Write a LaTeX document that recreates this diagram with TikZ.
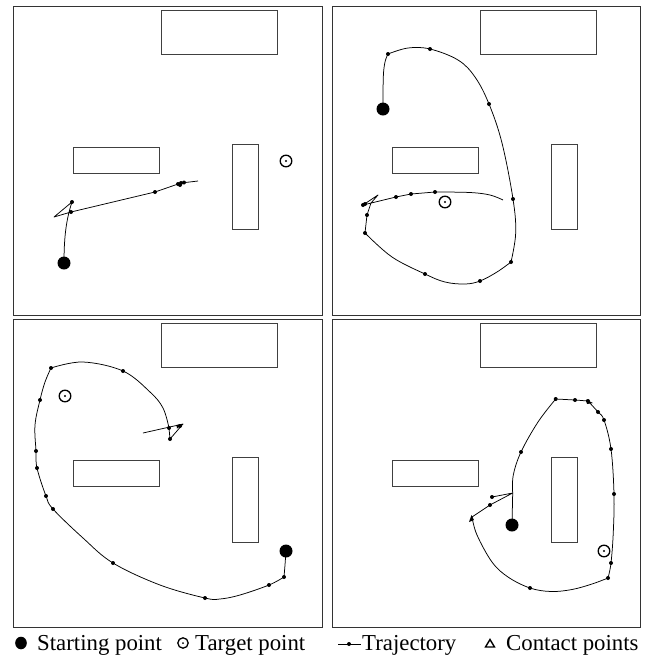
\documentclass[tikz,border=0pt]{standalone}
\usepackage{fontspec}
\setmainfont{Liberation Serif}
\begin{document}
\begin{tikzpicture}[x=1pt,y=-1pt,
  frame/.style={draw=black!80, line width=0.9pt},
  obst/.style={draw=black!75, line width=0.8pt},
  traj/.style={draw, line width=0.75pt, line join=round},
  lab/.style={anchor=base west, inner sep=0pt, font=\fontsize{22.8}{26}\selectfont}]
\useasboundingbox (0,0) rectangle (653,657);
% frames
\draw[frame] (13,6) rectangle (322,315);
\draw[frame] (332,6) rectangle (640,315);
\draw[frame] (13,319.5) rectangle (322,627);
\draw[frame] (332,319.5) rectangle (640,627);
% obstacles
\foreach \dx/\dy in {0/0, 319/0, 0/313, 319/313}{
  \begin{scope}[shift={(\dx,\dy)}]
    \draw[obst] (161,10) rectangle (277,54);
    \draw[obst] (73,147) rectangle (159,173);
    \draw[obst] (232,144) rectangle (258,229);
  \end{scope}
}
% ---------- panel 1 ----------
\draw[traj] (64,263) .. controls (64,238) and (66,220) .. (72,202) -- (54,217) -- (71,212) -- (155,192) -- (181,183) -- (198,181);
\foreach \p in {(72,202),(71,212),(155,192),(178,184),(181,183),(184,182.5),(180,185)} \fill \p circle (2);
% ---------- panel 2 ----------
\draw[traj] plot[smooth, tension=0.6] coordinates {(383,109) (383.3,77) (385,62) (388,54)};
\draw[traj] plot[smooth, tension=0.6] coordinates {(388,54) (408,48) (430,49) (458,60) (475,77) (489,104) (502,143) (513,199) (515.7,233) (511,262)};
\draw[traj] plot[smooth, tension=0.6] coordinates {(511,262) (497,272) (480,281) (465,284) (445,282) (425,274) (392,257) (365,233)};
\draw[traj] (365,233) -- (367,215) -- (371,203) -- (378,195) -- (363,205) -- (396,197) -- (411,194) -- (435,192);
\draw[traj] plot[smooth, tension=0.6] coordinates {(435,192) (470,192.5) (490,195) (503,200)};
\foreach \p in {(388,54),(430,49),(489,104),(513,199),(511,262),(480,281),(425,274),(365,233),(367,215),(363,205),(365,204),(396,197),(411,194),(435,192)} \fill \p circle (2);
% ---------- panel 3 ----------
\draw[traj] plot[smooth, tension=0.5] coordinates {(286,551) (285,565) (284,577)};
\draw[traj] plot[smooth, tension=0.6] coordinates {(284,577) (269,585) (240,595) (220,599) (205,598) (160,585) (113,563) (83,538) (53,509) (46,496) (37,468) (36,451) (35,425) (40,400) (45,382) (51,368)};
\draw[traj] plot[smooth, tension=0.6] coordinates {(51,368) (83,362) (123,371) (150,392) (163,408) (169,428)};
\draw[traj] (169,428) -- (170,439) -- (183,424) -- (143,433);
\foreach \p in {(284,577),(269,585),(205,598),(113,563),(53,509),(46,496),(37,468),(36,451),(40,400),(51,368),(123,371),(169,428),(170,439),(180,426)} \fill \p circle (2);
\fill (183,424) -- (177,428.5) -- (176.5,425) -- cycle;
% ---------- panel 4 ----------
\draw[traj] (512,525) -- (512.7,493);
\draw[traj] plot[smooth, tension=0.6] coordinates {(512.7,493) (513.3,475) (521,452) (538,422) (555.7,399)};
\draw[traj] (555.7,399) -- (575,400) -- (588,401);
\draw[traj] plot[smooth, tension=0.6] coordinates {(588,401) (598,412) (604,420) (611,449) (614,494) (613.3,532) (611,563) (608,578)};
\draw[traj] plot[smooth, tension=0.6] coordinates {(608,578) (592,584) (572,589.5) (551,591.5) (530,588) (508,577) (492,562) (477,535) (472,517)};
\draw[traj] (472,517) -- (490,505) -- (512.7,493) -- (492,497);
\foreach \p in {(555.7,399),(575,400),(588,401),(598,412),(604,420),(611,449),(614,494),(611,563),(608,578),(530,588),(490,505),(492,497),(521,452)} \fill \p circle (2);
\fill (593,403) -- (586,399.5) -- (587,404) -- cycle;
\fill (471.5,515) -- (469,522) -- (474,520) -- cycle;
% ---------- targets ----------
\foreach \p in {(286,161),(445,202),(65,396),(604,551)}{
  \draw[line width=1.3pt] \p circle (5.8);
  \fill \p circle (1.1);
}
% ---------- starts ----------
\foreach \p in {(64,263),(383,109),(286,551),(512,525)} \fill \p circle (6.5);
% ---------- legend ----------
\fill (21,643) ellipse (5.8 and 6.3);
\node[lab] (l1) at (37,650.5) {Starting point};
\draw[line width=1.3pt] (183,643) circle (5.2);
\fill (183,643) circle (1);
\node[lab] (l2) at (195,650.5) {Target point};
\draw[line width=0.8pt] (338,644) -- (361,644);
\fill (349,644) circle (2);
\node[lab] (l3) at (362,650.5) {Trajectory};
\draw[line width=1.4pt, line join=miter] (485.5,647) -- (494.5,647) -- (490,639.5) -- cycle;
\node[lab] (l4) at (506,650.5) {Contact points};
\end{tikzpicture}
\end{document}
